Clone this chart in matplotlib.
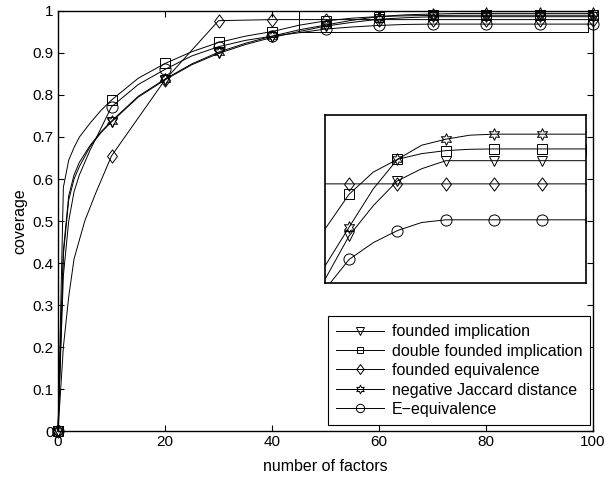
import numpy as np
import matplotlib
matplotlib.use('Agg')
import matplotlib.pyplot as plt
from matplotlib.path import Path
from matplotlib.ticker import FormatStrFormatter

plt.rcParams['font.family'] = ['Liberation Sans', 'DejaVu Sans']

# number of factors (shared by most series)
factors = [0, 1, 2, 3, 4, 6, 8, 10, 15, 20, 25, 30, 35, 40, 45, 50, 55, 60, 65, 70, 75, 80, 90, 100]

founded_impl = [0, .42, .55, .60, .63, .677, .71, .736, .795, .836, .872, .899, .92, .937, .951,
                .964, .973, .9804, .984, .9864, .9864, .9864, .9864, .9864]
double_founded = [0, .58, .645, .675, .70, .733, .763, .788, .84, .875, .903, .925, .94, .951, .966,
                  .9764, .983, .9868, .9885, .9894, .9898, .9899, .9899, .9899]
neg_jaccard = [0, .43, .56, .61, .64, .68, .712, .738, .797, .838, .874, .902, .923, .94, .955,
               .9666, .978, .9868, .991, .9928, .994, .9943, .9943, .9943]
e_equiv = [0, .37, .50, .57, .61, .669, .72, .772, .825, .861, .893, .915, .93, .94, .948,
           .957, .962, .9656, .968, .9688, .9688, .9688, .9688, .9688]

# founded equivalence has its own sampling
factors_eq = [0, 1, 2, 3, 5, 7, 10, 20, 30, 40, 50, 60, 70, 80, 90, 100]
founded_equiv = [0, .2, .32, .41, .5, .565, .655, .836, .977, .9795, .9795, .9795, .9795, .9795, .9795, .9795]

labels = ['founded implication', 'double founded implication', 'founded equivalence',
          'negative Jaccard distance', 'E\u2212equivalence']

# tall diamond like matlab's
diamond = Path([(0, 1), (0.75, 0), (0, -1), (-0.75, 0), (0, 1)],
               [Path.MOVETO, Path.LINETO, Path.LINETO, Path.LINETO, Path.CLOSEPOLY])

series = [
    (factors, founded_impl, 'v', 7.5),
    (factors, double_founded, 's', 6.5),
    (factors_eq, founded_equiv, diamond, 9.5),
    (factors, neg_jaccard, (6, 1, 0), 8.5),
    (factors, e_equiv, 'o', 8),
]

fig = plt.figure(figsize=(6.05, 4.78), dpi=100)
ax = fig.add_axes([0.0959, 0.0983, 0.8843, 0.8787])
ins = fig.add_axes([0.537, 0.408, 0.4316, 0.3514])


def draw(a, clip):
    for (xs, ys, m, ms), lab in zip(series, labels):
        idx = [i for i, v in enumerate(xs) if v % 10 == 0]
        a.plot(xs, ys, color='k', lw=0.7, marker=m, markersize=ms, markevery=idx,
               markerfacecolor='none', markeredgecolor='k', markeredgewidth=0.7,
               label=lab, clip_on=clip)


draw(ax, False)
ax.set_xlim(0, 100)
ax.set_ylim(0, 1)
ax.set_xticks(np.arange(0, 101, 20))
ax.set_yticks(np.arange(0, 1.01, 0.1))
ax.yaxis.set_major_formatter(FormatStrFormatter('%g'))
ax.tick_params(direction='in', top=True, right=True, length=4, labelsize=11, width=0.8, pad=3)
for s in ax.spines.values():
    s.set_linewidth(1.0)
ax.set_xlabel('number of factors', fontsize=11.5, labelpad=7)
ax.set_ylabel('coverage', fontsize=11.5, labelpad=4)

# zoom rectangle
ax.plot([45, 99, 99, 45, 45], [0.95, 0.95, 1.0, 1.0, 0.95], color='k', lw=0.7)

leg = ax.legend(loc='lower right', bbox_to_anchor=(0.9944, 0.0143), borderaxespad=0,
                fontsize=11.5, markerscale=0.75,
                handlelength=2.95, handletextpad=0.5, borderpad=0.5, labelspacing=0.28,
                fancybox=False, framealpha=1, edgecolor='k')
leg.get_frame().set_linewidth(0.8)

draw(ins, True)
ins.set_xlim(45, 99)
ins.set_ylim(0.95, 1.0)
ins.set_xticks([])
ins.set_yticks([])
for s in ins.spines.values():
    s.set_linewidth(1.2)

fig.savefig('out.png', dpi=100)
